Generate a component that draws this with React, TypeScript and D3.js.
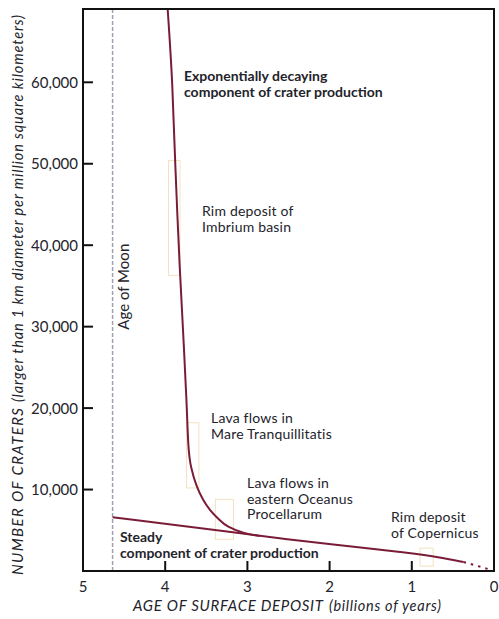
import React from "react";
import * as d3 from "d3";

const W = 499;
const H = 619;

// Data (age in billions of years, craters per million km^2)
const expAges = [3.97, 3.91, 3.88, 3.82, 3.77, 3.74, 3.72, 3.69, 3.62, 3.54, 3.46, 3.34, 3.25, 3.05, 2.85];
const expValues = [69000, 60000, 50000, 36300, 27100, 21000, 14860, 12770, 10350, 8700, 7490, 6260, 5440, 4630, 4290];

const steadyAges = [4.64, 3.0, 2.56, 2.0, 1.0, 0.68, 0.37];
const steadyValues = [6600, 4550, 3930, 3310, 2210, 1720, 1100];

const futureAges = [0.37, 0.02];
const futureValues = [1100, 100];

const moonAge = 4.64;

// Faint data boxes: [ageFrom, ageTo, valueLow, valueHigh]
const boxAgeFrom = [3.96, 3.74, 3.39, 0.9];
const boxAgeTo = [3.82, 3.59, 3.17, 0.74];
const boxValLow = [36300, 10200, 3900, 600];
const boxValHigh = [50400, 18200, 8800, 2800];

const xTicks = [5, 4, 3, 2, 1, 0];
const yTicks = [10000, 20000, 30000, 40000, 50000, 60000];

const FONT = "Lato, 'Open Sans', sans-serif";
const TEXT = "#23232b";
const CURVE = "#7a1c38";

export default function App() {
  const x = d3.scaleLinear().domain([5, 0]).range([83, 494]);
  const y = d3.scaleLinear().domain([0, 69000]).range([571, 9]);

  const line = d3
    .line<[number, number]>()
    .x((d) => x(d[0]))
    .y((d) => y(d[1]))
    .curve(d3.curveBasis);

  const expPts: [number, number][] = expAges.map((a, i) => [a, expValues[i]]);
  const steadyPts: [number, number][] = steadyAges.map((a, i) => [a, steadyValues[i]]);
  const futurePts: [number, number][] = futureAges.map((a, i) => [a, futureValues[i]]);
  const fmt = d3.format(",");

  return (
    <svg
      width={W}
      height={H}
      style={{ position: "absolute", left: 0, top: 0, background: "#fff" }}
      fontFamily={FONT}
    >
      <defs>
        <clipPath id="plot">
          <rect x={x(5)} y={y(69000)} width={x(0) - x(5)} height={y(0) - y(69000)} />
        </clipPath>
      </defs>

      {/* faint boxes */}
      {boxAgeFrom.map((a, i) => (
        <rect
          key={i}
          x={x(a)}
          y={y(boxValHigh[i])}
          width={x(boxAgeTo[i]) - x(a)}
          height={y(boxValLow[i]) - y(boxValHigh[i])}
          fill="none"
          stroke="#f3e2c0"
          strokeWidth={1}
        />
      ))}

      {/* Age of Moon dashed line */}
      <line
        x1={x(moonAge)}
        x2={x(moonAge)}
        y1={y(69000)}
        y2={y(0)}
        stroke="#a0a0b2"
        strokeWidth={1.5}
        strokeDasharray="4,2"
      />
      <text
        transform={`translate(${x(moonAge) + 16},${y(34900)}) rotate(-90)`}
        textAnchor="middle"
        fontSize={15}
        textLength={86}
        lengthAdjust="spacing"
        fill={TEXT}
      >
        Age of Moon
      </text>

      {/* curves */}
      <g clipPath="url(#plot)">
        <path d={line(expPts) || ""} fill="none" stroke={CURVE} strokeWidth={2} />
        <path d={line(steadyPts) || ""} fill="none" stroke={CURVE} strokeWidth={2} />
        <path
          d={line(futurePts) || ""}
          fill="none"
          stroke={CURVE}
          strokeWidth={2}
          strokeDasharray="2.5,5"
        />
      </g>

      {/* frame */}
      <rect
        x={x(5)}
        y={y(69000)}
        width={x(0) - x(5)}
        height={y(0) - y(69000)}
        fill="none"
        stroke="#111"
        strokeWidth={2}
      />

      {/* y ticks */}
      {yTicks.map((t) => (
        <g key={t}>
          <line x1={x(5)} x2={x(5) + 10} y1={y(t)} y2={y(t)} stroke="#111" strokeWidth={2} />
          <text x={x(5) - 5} y={y(t)} dy="0.36em" textAnchor="end" fontSize={15} fill={TEXT}>
            {fmt(t)}
          </text>
        </g>
      ))}

      {/* x ticks */}
      {xTicks.map((t) => (
        <g key={t}>
          {t !== 5 && t !== 0 && (
            <line x1={x(t)} x2={x(t)} y1={y(0)} y2={y(0) - 10} stroke="#111" strokeWidth={2} />
          )}
          <text x={x(t)} y={592} textAnchor="middle" fontSize={15} fill={TEXT}>
            {t}
          </text>
        </g>
      ))}

      {/* axis titles */}
      <text
        x={133}
        y={611}
        fontSize={15}
        fontStyle="italic"
        fill={TEXT}
        textLength={190}
        lengthAdjust="spacing"
      >
        AGE OF SURFACE DEPOSIT
      </text>
      <text
        x={329}
        y={611}
        fontSize={14.5}
        fontStyle="italic"
        fill={TEXT}
        textLength={112}
        lengthAdjust="spacing"
      >
        (billions of years)
      </text>
      <text
        transform="translate(23,575) rotate(-90)"
        fontSize={15}
        fontStyle="italic"
        fill={TEXT}
        textLength={167}
        lengthAdjust="spacing"
      >
        NUMBER OF CRATERS
      </text>
      <text
        transform="translate(23,402) rotate(-90)"
        fontSize={14.5}
        fontStyle="italic"
        fill={TEXT}
        textLength={387}
        lengthAdjust="spacing"
      >
        (larger than 1 km diameter per million square kilometers)
      </text>

      {/* annotations */}
      <text x={184} y={81} fontSize={14} fontWeight="bold" fill={TEXT}>
        <tspan x={184}>Exponentially decaying</tspan>
        <tspan x={184} dy={16}>component of crater production</tspan>
      </text>
      <text x={202} y={216} fontSize={14} fill={TEXT} letterSpacing={0.2}>
        <tspan x={202}>Rim deposit of</tspan>
        <tspan x={202} dy={16}>Imbrium basin</tspan>
      </text>
      <text x={211} y={423} fontSize={14} fill={TEXT} letterSpacing={0.2}>
        <tspan x={211}>Lava flows in</tspan>
        <tspan x={211} dy={16}>Mare Tranquillitatis</tspan>
      </text>
      <text x={247} y={488} fontSize={14} fill={TEXT} letterSpacing={0.2}>
        <tspan x={247}>Lava flows in</tspan>
        <tspan x={247} dy={15.5}>eastern Oceanus</tspan>
        <tspan x={247} dy={15.5}>Procellarum</tspan>
      </text>
      <text x={391} y={522} fontSize={14} fill={TEXT} letterSpacing={0.2}>
        <tspan x={391}>Rim deposit</tspan>
        <tspan x={391} dy={16}>of Copernicus</tspan>
      </text>
      <text x={120} y={542} fontSize={14} fontWeight="bold" fill={TEXT}>
        <tspan x={120}>Steady</tspan>
        <tspan x={120} dy={16}>component of crater production</tspan>
      </text>
    </svg>
  );
}
